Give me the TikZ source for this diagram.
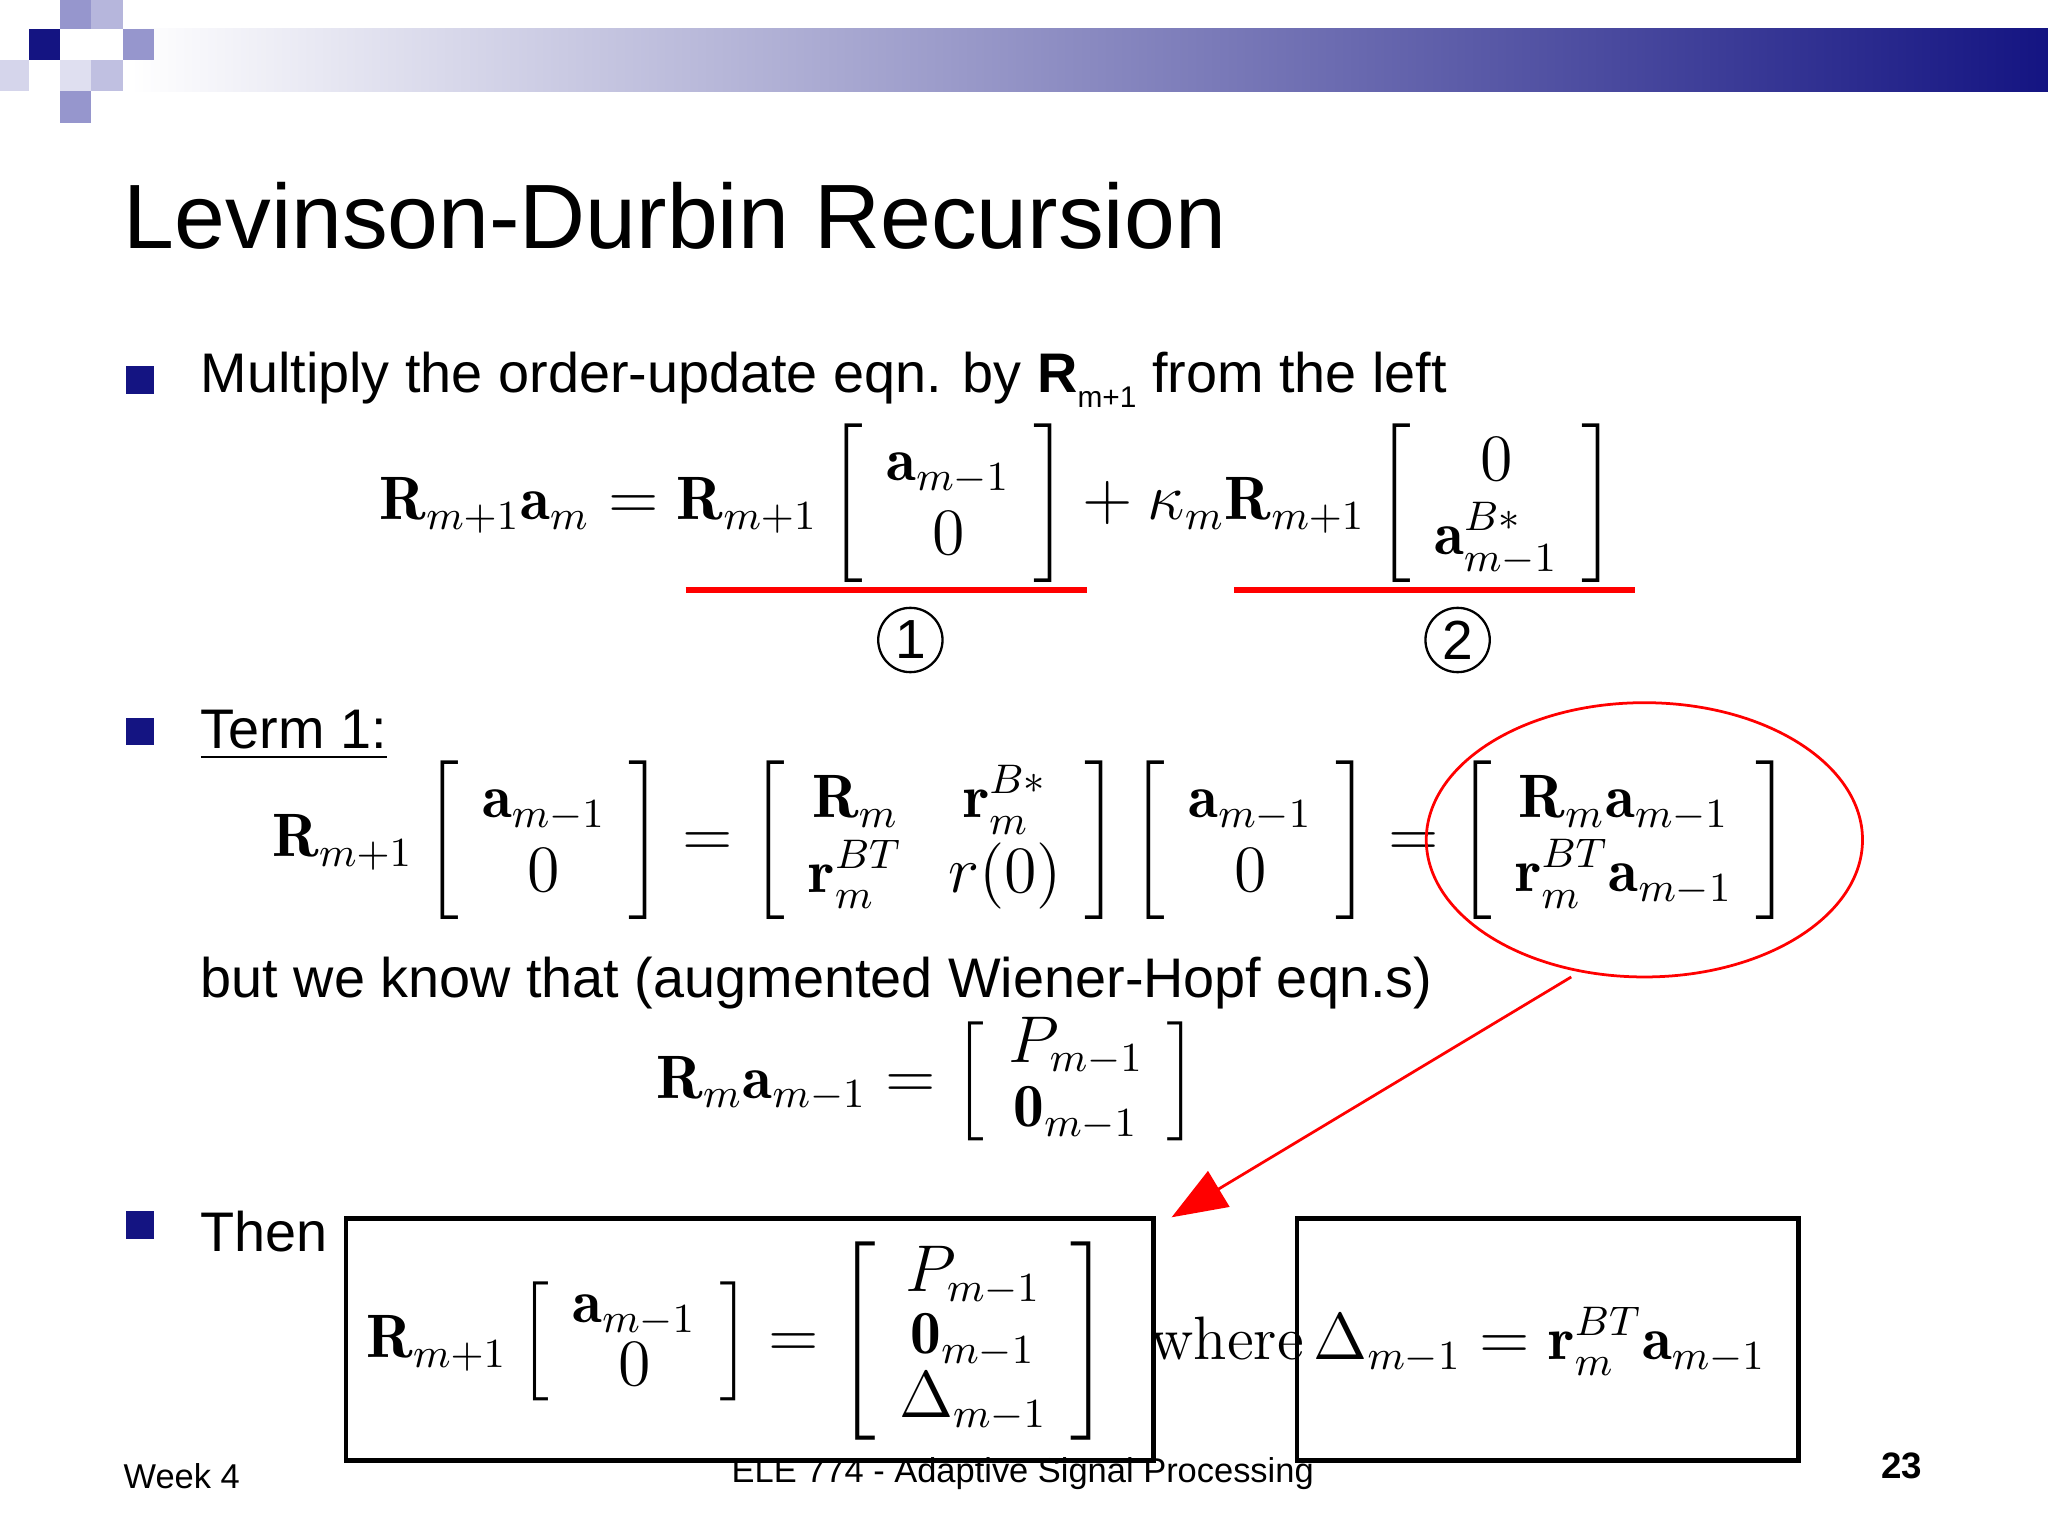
\documentclass[tikz,border=0pt]{standalone}
\usepackage{amsmath}
\usepackage{fontspec}
\setsansfont{Liberation Sans}
\usetikzlibrary{arrows.meta}
\definecolor{navy}{RGB}{20,20,130}
\definecolor{lnavy}{RGB}{150,150,205}
\tikzset{
  txt/.style={font=\sffamily\fontsize{12.15}{15}\selectfont, anchor=west, inner sep=0pt},
  eq/.style={font=\fontsize{13.35}{16}\selectfont, anchor=west, inner sep=0pt},
  bul/.style={fill=navy, draw=none, minimum size=6pt, inner sep=0pt},
  redl/.style={draw=red, line width=1.3pt},
  boxx/.style={draw=black, line width=1pt},
  circ/.style={circle, draw=black, line width=0.5pt, minimum size=14pt, inner sep=0pt, font=\sffamily\fontsize{12}{14}\selectfont},
  foot/.style={font=\sffamily\fontsize{7.5}{9}\selectfont, inner sep=0pt}
}
\begin{document}
\begin{tikzpicture}[x=0.01cm,y=-0.01cm]
\useasboundingbox (0,0) rectangle (1568,1176);
% header
\shade[left color=white, right color=navy] (100,22) rectangle (1568,70);
\fill[navy] (22,22) rectangle (46,46);
\fill[lnavy] (46,0) rectangle (70,22);
\fill[lnavy!70] (70,0) rectangle (94,22);
\fill[lnavy] (94,22) rectangle (118,46);
\fill[lnavy!60] (70,46) rectangle (94,70);
\fill[lnavy] (46,70) rectangle (70,94);
\fill[lnavy!40] (0,46) rectangle (22,70);
\fill[lnavy!30] (46,46) rectangle (70,70);
% title
\node[anchor=west, inner sep=0pt, font=\sffamily\fontsize{19.9}{24}\selectfont] (title) at (94,165) {Levinson-Durbin Recursion};
% bullet 1
\node[bul] (b1) at (107,291) {};
\node[txt] (t1) at (153,291) {Multiply the order-update eqn. by \textbf{R}\raisebox{-0.5ex}{\fontsize{6.5}{8}\selectfont m+1} from the left};
\node[eq] (e1) at (290,385) {$\mathbf R_{m+1}\mathbf a_m=\mathbf R_{m+1}\left[\begin{array}{c}\mathbf a_{m-1}\\0\end{array}\right]+\kappa_m\mathbf R_{m+1}\left[\begin{array}{c}0\\\mathbf a^{B*}_{m-1}\end{array}\right]$};
\coordinate (u1a) at (525,452); \coordinate (u1b) at (832,452);
\coordinate (u2a) at (945,452); \coordinate (u2b) at (1252,452);
\draw[redl] (u1a) -- (u1b);
\draw[redl] (u2a) -- (u2b);
\node[circ] (c1) at (697,490) {1};
\node[circ] (c2) at (1116,490) {2};
% term 1
\node[bul] (b2) at (107,560) {};
\node[txt] (t2) at (153,563) {\underline{Term 1:}};
\node[eq] (e2) at (208,643) {$\mathbf R_{m+1}\left[\begin{array}{c}\mathbf a_{m-1}\\0\end{array}\right]=\left[\begin{array}{cc}\mathbf R_m&\mathbf r^{B*}_m\\\mathbf r^{BT}_m&r(0)\end{array}\right]\left[\begin{array}{c}\mathbf a_{m-1}\\0\end{array}\right]=\left[\begin{array}{c}\mathbf R_m\mathbf a_{m-1}\\\mathbf r^{BT}_m\mathbf a_{m-1}\end{array}\right]$};
\draw[draw=red, line width=0.6pt] (1259,643) ellipse [x radius=167, y radius=105];
\node[txt] (t3) at (153,753) {but we know that (augmented Wiener-Hopf eqn.s)};
\node[eq] (e3) at (502,828) {\renewcommand\arraystretch{0.88}$\mathbf R_m\mathbf a_{m-1}=\left[\begin{array}{c}P_{m-1}\\\mathbf 0_{m-1}\end{array}\right]$};
\coordinate (as) at (1203,748); \coordinate (ae) at (897,932);
\draw[red, line width=0.6pt, -{Triangle[length=12pt,width=9pt]}] (as) -- (ae);
% then
\node[bul] (b3) at (107,938) {};
\node[txt] (t4) at (153,943) {Then};
\draw[boxx] (265,933) rectangle (883,1118);
\draw[boxx] (993,933) rectangle (1377,1118);
\node[eq] (e4) at (280,1027) {\renewcommand\arraystretch{0.85}$\mathbf R_{m+1}\left[\begin{array}{c}\mathbf a_{m-1}\\0\end{array}\right]=\left[\begin{array}{c}P_{m-1}\\\mathbf 0_{m-1}\\\Delta_{m-1}\end{array}\right]$};
\node[eq] (w) at (880,1025) {where};
\node[eq] (e5) at (1005,1027) {$\Delta_{m-1}=\mathbf r^{BT}_m\mathbf a_{m-1}$};
% footer
\node[foot, anchor=west] (wk) at (94,1130) {Week 4};
\node[foot] (crs) at (783,1128) {ELE 774 - Adaptive Signal Processing};
\node[foot, font=\sffamily\bfseries\fontsize{8}{9}\selectfont] (pg) at (1456,1122) {23};
\end{tikzpicture}
\end{document}
